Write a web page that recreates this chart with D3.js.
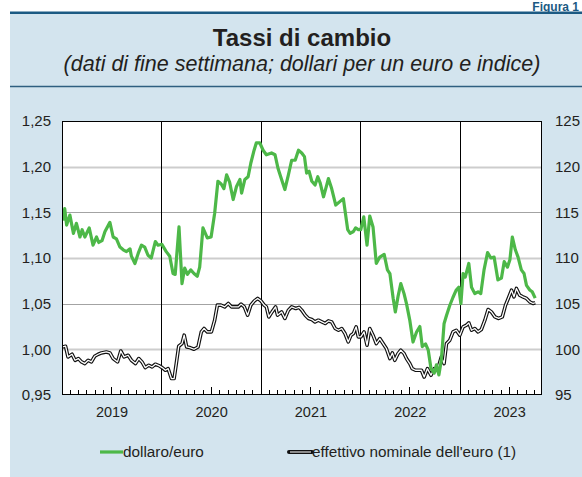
<!DOCTYPE html>
<html><head><meta charset="utf-8">
<script src="https://cdn.jsdelivr.net/npm/d3@7"></script>
<style>body{margin:0;background:#fff} svg{display:block;font-family:"Liberation Sans",Arial,sans-serif}</style>
</head><body><svg id="c" width="582" height="477"></svg>
<script>
const figLabel = "Figura 1";
const title = "Tassi di cambio";
const subtitle = "(dati di fine settimana; dollari per un euro e indice)";
const leftTicks = [0.95, 1.00, 1.05, 1.10, 1.15, 1.20, 1.25];
const rightTicks = [95, 100, 105, 110, 115, 120, 125];
const years = [2019, 2020, 2021, 2022, 2023];
const seriesNames = ["dollaro/euro", "effettivo nominale dell'euro (1)"];

const dollaroEuro = [["2019-01-04",1.141],["2019-01-11",1.154],["2019-01-18",1.136],["2019-01-30",1.147],["2019-02-12",1.127],["2019-02-23",1.138],["2019-03-08",1.123],["2019-03-16",1.131],["2019-03-26",1.123],["2019-04-11",1.133],["2019-04-25",1.114],["2019-05-08",1.123],["2019-05-16",1.117],["2019-05-28",1.119],["2019-06-08",1.129],["2019-06-26",1.139],["2019-07-08",1.123],["2019-07-20",1.121],["2019-08-02",1.112],["2019-08-14",1.109],["2019-08-26",1.107],["2019-09-08",1.110],["2019-09-13",1.102],["2019-09-26",1.094],["2019-10-08",1.105],["2019-10-20",1.114],["2019-11-01",1.112],["2019-11-13",1.103],["2019-11-25",1.100],["2019-12-10",1.118],["2019-12-20",1.114],["2020-01-03",1.115],["2020-01-19",1.107],["2020-02-01",1.102],["2020-02-13",1.083],["2020-02-21",1.082],["2020-03-06",1.134],["2020-03-17",1.072],["2020-03-27",1.089],["2020-04-06",1.082],["2020-04-18",1.087],["2020-04-30",1.083],["2020-05-12",1.080],["2020-05-21",1.090],["2020-06-02",1.133],["2020-06-18",1.122],["2020-07-02",1.123],["2020-07-15",1.149],["2020-07-27",1.184],["2020-08-08",1.181],["2020-08-18",1.176],["2020-08-28",1.191],["2020-09-08",1.183],["2020-09-21",1.164],["2020-10-03",1.178],["2020-10-16",1.186],["2020-10-22",1.171],["2020-11-03",1.186],["2020-11-15",1.189],["2020-11-25",1.204],["2020-12-07",1.218],["2020-12-15",1.226],["2020-12-28",1.226],["2021-01-09",1.218],["2021-01-21",1.213],["2021-02-09",1.215],["2021-02-22",1.213],["2021-03-05",1.198],["2021-03-18",1.186],["2021-03-30",1.175],["2021-04-12",1.191],["2021-04-24",1.207],["2021-05-07",1.207],["2021-05-19",1.218],["2021-05-31",1.215],["2021-06-10",1.211],["2021-06-18",1.193],["2021-06-27",1.195],["2021-07-07",1.184],["2021-07-19",1.180],["2021-07-29",1.189],["2021-08-07",1.182],["2021-08-19",1.167],["2021-08-31",1.180],["2021-09-06",1.187],["2021-09-18",1.176],["2021-10-03",1.158],["2021-10-19",1.162],["2021-10-31",1.165],["2021-11-16",1.131],["2021-11-25",1.127],["2021-12-07",1.129],["2021-12-15",1.133],["2021-12-25",1.131],["2022-01-03",1.131],["2022-01-14",1.145],["2022-01-26",1.114],["2022-02-05",1.146],["2022-02-17",1.134],["2022-03-01",1.094],["2022-03-14",1.101],["2022-03-30",1.104],["2022-04-11",1.087],["2022-04-20",1.083],["2022-05-02",1.056],["2022-05-10",1.041],["2022-05-20",1.058],["2022-05-30",1.072],["2022-06-11",1.061],["2022-06-20",1.050],["2022-07-02",1.032],["2022-07-14",1.008],["2022-07-27",1.019],["2022-08-08",1.025],["2022-08-17",1.003],["2022-08-29",1.006],["2022-09-08",0.999],["2022-09-18",0.979],["2022-09-30",0.974],["2022-10-08",0.983],["2022-10-17",0.972],["2022-10-26",0.988],["2022-11-05",1.028],["2022-11-14",1.037],["2022-11-26",1.048],["2022-12-08",1.057],["2022-12-20",1.065],["2022-12-29",1.068],["2023-01-06",1.050],["2023-01-14",1.083],["2023-01-22",1.079],["2023-02-04",1.094],["2023-02-14",1.068],["2023-02-26",1.061],["2023-03-10",1.063],["2023-03-20",1.061],["2023-04-01",1.087],["2023-04-14",1.106],["2023-04-26",1.100],["2023-05-08",1.101],["2023-05-22",1.076],["2023-06-04",1.078],["2023-06-14",1.096],["2023-06-26",1.090],["2023-07-05",1.098],["2023-07-14",1.123],["2023-07-25",1.109],["2023-08-04",1.101],["2023-08-16",1.087],["2023-08-26",1.083],["2023-09-04",1.070],["2023-09-16",1.065],["2023-09-25",1.063],["2023-10-06",1.056]];

const effettivoNominale = [["2019-01-04",100.26],["2019-01-14",100.34],["2019-01-23",99.17],["2019-02-07",99.46],["2019-02-18",98.80],["2019-03-02",98.99],["2019-03-14",98.62],["2019-03-26",98.44],["2019-04-07",98.80],["2019-04-19",98.62],["2019-05-01",99.24],["2019-05-14",99.46],["2019-05-26",99.61],["2019-06-13",99.71],["2019-06-26",99.61],["2019-07-08",98.99],["2019-07-24",98.62],["2019-08-05",99.82],["2019-08-17",99.17],["2019-09-01",99.35],["2019-09-13",98.80],["2019-09-28",98.44],["2019-10-10",98.99],["2019-10-22",98.62],["2019-11-03",98.00],["2019-11-16",98.26],["2019-11-28",98.07],["2019-12-10",98.37],["2019-12-23",98.22],["2020-01-04",98.00],["2020-01-16",97.71],["2020-01-26",97.89],["2020-02-07",96.80],["2020-02-17",96.80],["2020-02-25",98.44],["2020-03-05",100.34],["2020-03-17",100.63],["2020-03-25",101.55],["2020-04-03",100.26],["2020-04-15",100.19],["2020-04-30",100.01],["2020-05-15",100.26],["2020-05-27",101.91],["2020-06-06",102.28],["2020-06-18",101.91],["2020-07-03",101.91],["2020-07-15",103.19],["2020-07-25",104.84],["2020-08-07",104.84],["2020-08-21",104.65],["2020-09-03",105.02],["2020-09-15",104.65],["2020-09-27",104.65],["2020-10-10",104.65],["2020-10-20",104.95],["2020-11-01",104.65],["2020-11-13",103.74],["2020-11-25",104.84],["2020-12-08",105.31],["2020-12-20",105.57],["2021-01-01",105.31],["2021-01-13",104.84],["2021-01-21",104.65],["2021-01-30",103.55],["2021-02-11",104.10],["2021-02-24",104.65],["2021-03-03",103.74],["2021-03-18",104.10],["2021-03-30",103.38],["2021-04-12",104.29],["2021-04-24",104.65],["2021-05-09",104.47],["2021-05-21",104.60],["2021-05-31",104.29],["2021-06-13",103.74],["2021-06-25",103.38],["2021-07-07",103.26],["2021-07-19",103.00],["2021-07-31",103.19],["2021-08-13",103.00],["2021-08-25",102.83],["2021-09-06",103.11],["2021-09-18",103.00],["2021-10-01",102.28],["2021-10-13",102.09],["2021-10-25",102.28],["2021-11-06",101.73],["2021-11-18",100.81],["2021-11-28",101.55],["2021-12-07",101.73],["2021-12-17",102.46],["2021-12-25",101.36],["2022-01-03",101.36],["2022-01-15",101.91],["2022-01-26",100.45],["2022-02-05",102.28],["2022-02-17",101.55],["2022-03-01",100.63],["2022-03-14",101.18],["2022-03-26",100.63],["2022-04-07",100.09],["2022-04-20",98.99],["2022-04-29",99.61],["2022-05-08",98.80],["2022-05-20",99.54],["2022-05-30",99.90],["2022-06-11",99.54],["2022-06-20",98.99],["2022-07-02",98.44],["2022-07-11",97.89],["2022-07-23",97.71],["2022-08-05",97.71],["2022-08-14",97.71],["2022-08-24",96.97],["2022-09-05",97.89],["2022-09-18",97.16],["2022-09-30",97.89],["2022-10-08",97.71],["2022-10-17",98.26],["2022-10-26",99.17],["2022-11-05",98.44],["2022-11-14",100.63],["2022-11-26",101.00],["2022-12-08",101.91],["2022-12-20",102.09],["2023-01-02",101.55],["2023-01-14",102.46],["2023-01-26",102.64],["2023-02-04",102.90],["2023-02-14",102.09],["2023-02-26",102.28],["2023-03-10",101.91],["2023-03-22",102.17],["2023-04-04",103.19],["2023-04-16",104.36],["2023-04-28",104.10],["2023-05-11",103.55],["2023-05-25",103.38],["2023-06-07",103.55],["2023-06-19",104.84],["2023-06-29",105.57],["2023-07-11",106.48],["2023-07-20",105.75],["2023-07-29",106.67],["2023-08-10",105.93],["2023-08-22",105.75],["2023-09-04",105.57],["2023-09-16",105.20],["2023-09-28",105.02],["2023-10-06",105.10]];

const parse = d3.timeParse("%Y-%m-%d");
const usd = dollaroEuro.map(d => ({date: parse(d[0]), v: d[1]}));
const neer = effettivoNominale.map(d => ({date: parse(d[0]), v: d[1]}));

const W = 582, H = 477;
const P = {left: 62, right: 542, top: 121, bottom: 395};
const textCol = "#231f20", green = "#4db848", blue = "#1b5a83", panel = "#d3e4ee";

const svg = d3.select("#c");
svg.append("rect").attr("x", 10).attr("y", 12).attr("width", W - 10).attr("height", H - 12).attr("fill", panel);
svg.append("text").attr("x", 579).attr("y", 11).attr("text-anchor", "end").attr("fill", blue)
  .attr("font-weight", "bold").attr("font-size", 12).text(figLabel);
svg.append("line").attr("x1", 10).attr("x2", W).attr("y1", 12.75).attr("y2", 12.75).attr("stroke", blue).attr("stroke-width", 2.5);
svg.append("line").attr("x1", 10).attr("x2", W).attr("y1", 86.5).attr("y2", 86.5).attr("stroke", "#2f5f80").attr("stroke-width", 1.3);
svg.append("text").attr("x", 302).attr("y", 46).attr("text-anchor", "middle").attr("fill", textCol)
  .attr("font-weight", "bold").attr("font-size", 24).text(title);
svg.append("text").attr("x", 302).attr("y", 71).attr("text-anchor", "middle").attr("fill", textCol)
  .attr("font-style", "italic").attr("font-size", 21.5).text(subtitle);

const x = d3.scaleTime().domain([new Date(2019, 0, 1), new Date(2023, 9, 31)]).range([P.left, P.right]);
const yL = d3.scaleLinear().domain([leftTicks[0], leftTicks[leftTicks.length - 1]]).range([P.bottom, P.top]);
const yR = d3.scaleLinear().domain([rightTicks[0], rightTicks[rightTicks.length - 1]]).range([P.bottom, P.top]);

svg.append("rect").attr("x", P.left).attr("y", P.top).attr("width", P.right - P.left).attr("height", P.bottom - P.top).attr("fill", "#fff");

// gridlines
leftTicks.slice(1, -1).forEach((t, i) => {
  const light = (i % 2 === 0);
  svg.append("line").attr("x1", P.left).attr("x2", P.right)
    .attr("y1", Math.round(yL(t)) + 0.5).attr("y2", Math.round(yL(t)) + 0.5)
    .attr("stroke", light ? "#cdcdcd" : "#a3a3a3").attr("stroke-width", light ? 2 : 1);
});

// year separators
years.slice(1).forEach(yr => {
  const xx = Math.round(x(new Date(yr, 0, 1))) + 0.5;
  svg.append("line").attr("x1", xx).attr("x2", xx).attr("y1", P.top).attr("y2", P.bottom).attr("stroke", "#000").attr("stroke-width", 1);
});

// monthly ticks
d3.timeMonth.range(new Date(2019, 0, 1), new Date(2023, 9, 31)).filter(d => d.getMonth() !== 0).forEach(d => {
  const xx = Math.round(x(d)) + 0.5;
  const len = d.getMonth() === 6 ? 8 : 5;
  svg.append("line").attr("x1", xx).attr("x2", xx).attr("y1", P.bottom).attr("y2", P.bottom - len).attr("stroke", "#000").attr("stroke-width", 1);
});

// series
const lineUsd = d3.line().x(d => x(d.date)).y(d => yL(d.v)).curve(d3.curveLinear);
const lineNeer = d3.line().x(d => x(d.date)).y(d => yR(d.v)).curve(d3.curveLinear);
svg.append("clipPath").attr("id", "pc").append("rect").attr("x", P.left).attr("y", P.top).attr("width", P.right - P.left).attr("height", P.bottom - P.top);
const g = svg.append("g").attr("clip-path", "url(#pc)");
g.append("path").datum(neer).attr("d", lineNeer).attr("fill", "none").attr("stroke", "#111").attr("stroke-width", 3.6).attr("stroke-linejoin", "round");
g.append("path").datum(neer).attr("d", lineNeer).attr("fill", "none").attr("stroke", "#fff").attr("stroke-width", 1.3).attr("stroke-linejoin", "round");
g.append("path").datum(usd).attr("d", lineUsd).attr("fill", "none").attr("stroke", green).attr("stroke-width", 3.2).attr("stroke-linejoin", "round");

// border
svg.append("rect").attr("x", P.left + 0.5).attr("y", P.top + 0.5).attr("width", P.right - P.left - 1).attr("height", P.bottom - P.top - 1)
  .attr("fill", "none").attr("stroke", "#000").attr("stroke-width", 1);

// axes labels
const fmtL = d => d3.format(".2f")(d).replace(".", ",");
const axL = svg.append("g").attr("transform", `translate(${P.left},0)`)
  .call(d3.axisLeft(yL).tickValues(leftTicks).tickFormat(fmtL).tickSize(0).tickPadding(11));
const axR = svg.append("g").attr("transform", `translate(${P.right},0)`)
  .call(d3.axisRight(yR).tickValues(rightTicks).tickFormat(d3.format("d")).tickSize(0).tickPadding(13));
const axB = svg.append("g").attr("transform", `translate(0,${P.bottom})`)
  .call(d3.axisBottom(x).tickValues(years.map(yr => new Date(yr, 6, 2))).tickFormat(d3.timeFormat("%Y")).tickSize(0).tickPadding(12));
[axL, axR, axB].forEach(a => {
  a.select(".domain").remove();
  a.selectAll("text").attr("fill", textCol).attr("font-size", 15).attr("font-family", '"Liberation Sans",Arial,sans-serif');
});
axB.selectAll("text").attr("font-size", 14.5);

// legend
const ly = 452;
const leg = svg.append("g");
leg.append("line").attr("x1", 100).attr("x2", 123).attr("y1", ly).attr("y2", ly).attr("stroke", green).attr("stroke-width", 3.2);
leg.append("text").attr("x", 123).attr("y", ly).attr("dy", "0.35em").attr("fill", textCol).attr("font-size", 15.3).text(seriesNames[0]);
leg.append("line").attr("x1", 289).attr("x2", 312).attr("y1", ly).attr("y2", ly).attr("stroke", "#111").attr("stroke-width", 4).attr("stroke-linecap", "round");
leg.append("line").attr("x1", 290).attr("x2", 311).attr("y1", ly).attr("y2", ly).attr("stroke", "#9a9a9a").attr("stroke-width", 1.8);
leg.append("text").attr("x", 312).attr("y", ly).attr("dy", "0.35em").attr("fill", textCol).attr("font-size", 15.3).text(seriesNames[1]);
</script></body></html>
